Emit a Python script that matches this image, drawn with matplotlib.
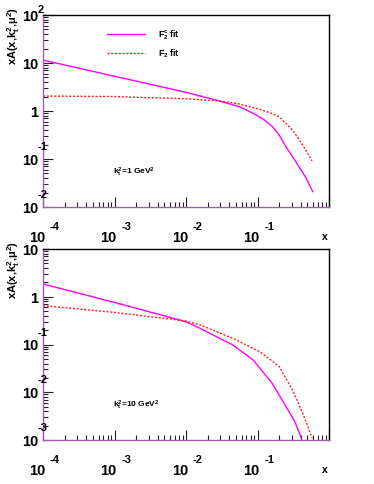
import matplotlib
matplotlib.use("Agg")
import matplotlib.pyplot as plt
import matplotlib.transforms as mtransforms
from matplotlib.ticker import LogLocator, NullFormatter

plt.rcParams['font.family'] = ['Liberation Sans', 'DejaVu Sans']
plt.rcParams['font.weight'] = 'bold'
plt.rcParams['mathtext.fontset'] = 'custom'
plt.rcParams['mathtext.rm'] = 'Liberation Sans:bold'
plt.rcParams['mathtext.it'] = 'Liberation Sans:bold'
plt.rcParams['mathtext.bf'] = 'Liberation Sans:bold'
plt.rcParams['mathtext.default'] = 'rm'

# kt^2 = 1 GeV^2 panel
x1_f2c = [1e-4, 1e-3, 1e-2, 0.03, 0.056, 0.086, 0.12, 0.16, 0.2, 0.25, 0.3, 0.38, 0.48, 0.59]
y1_f2c = [11.5, 5.3, 2.45, 1.6, 1.23, 0.9, 0.68, 0.48, 0.32, 0.18, 0.12, 0.069, 0.040, 0.021]
x1_f2 = [1e-4, 1e-3, 1e-2, 0.03, 0.056, 0.107, 0.15, 0.2, 0.31, 0.43, 0.58]
y1_f2 = [2.05, 2.0, 1.8, 1.62, 1.4, 1.08, 0.92, 0.76, 0.40, 0.195, 0.091]

# kt^2 = 10 GeV^2 panel
x2_f2c = [1e-4, 1e-3, 1e-2, 0.0155, 0.045, 0.086, 0.16, 0.25, 0.33, 0.41]
y2_f2c = [1.85, 0.76, 0.30, 0.22, 0.098, 0.048, 0.0155, 0.005, 0.0025, 0.0011]
x2_f2 = [1e-4, 1e-3, 1e-2, 0.0155, 0.045, 0.107, 0.2, 0.31, 0.43, 0.58]
y2_f2 = [0.65, 0.47, 0.31, 0.26, 0.135, 0.071, 0.035, 0.011, 0.0036, 0.0011]

x_exps = [-4, -3, -2, -1]
y1_exps = [-2, -1, 0, 1, 2]
y2_exps = [-3, -2, -1, 0, 1]
labels = ['F$_2^c$ fit', 'F$_2$ fit']
notes = ['k$_t^2$=1 GeV$^2$', 'k$_t^2$=10 GeV$^2$']

W, H = 374, 484
fig = plt.figure(figsize=(W / 100, H / 100), dpi=100)
ax1 = fig.add_axes([43 / W, 1 - 207 / H, 286 / W, 192 / H])
ax2 = fig.add_axes([43 / W, 1 - 440 / H, 286 / W, 191 / H])

panels = [
    (ax1, x1_f2c, y1_f2c, x1_f2, y1_f2, y1_exps, notes[0]),
    (ax2, x2_f2c, y2_f2c, x2_f2, y2_f2, y2_exps, notes[1]),
]

purple = '#a060a8'
for ax, xc, yc, xf, yf, yexps, note in panels:
    ax.plot(xc, yc, color='#ff00ff', lw=1.0, label=labels[0])
    ax.plot(xf, yf, color='#ff2020', lw=1.0, ls=(0, (1.5, 1.2)), label=labels[1])
    ax.set_xscale('log')
    ax.set_yscale('log')
    ax.set_xlim(1e-4, 1)
    ax.set_ylim(10.0 ** yexps[0], 10.0 ** yexps[-1])

    ax.xaxis.set_major_locator(LogLocator(base=10, numticks=10))
    ax.xaxis.set_minor_locator(LogLocator(base=10, subs=range(2, 10), numticks=20))
    ax.yaxis.set_major_locator(LogLocator(base=10, numticks=10))
    ax.yaxis.set_minor_locator(LogLocator(base=10, subs=range(2, 10), numticks=20))
    for axis in (ax.xaxis, ax.yaxis):
        axis.set_major_formatter(NullFormatter())
        axis.set_minor_formatter(NullFormatter())
    ax.tick_params(which='both', direction='in', top=False, right=False,
                   color='#222222', width=0.8)
    ax.tick_params(which='major', length=7)
    ax.tick_params(which='minor', length=3.5)

    ax.spines['left'].set_color(purple)
    ax.spines['bottom'].set_color(purple)
    ax.spines['top'].set_color('black')
    ax.spines['right'].set_color('black')
    for sp in ax.spines.values():
        sp.set_linewidth(1.0)

    # ROOT-style tick labels: "10" with a raised exponent
    bx = ax.get_xaxis_transform()
    for e in x_exps:
        t = mtransforms.offset_copy(bx, fig=fig, x=2, y=-35, units='dots')
        ax.text(10.0 ** e, 0, '10', transform=t, ha='right', va='baseline',
                fontsize=10.5, fontweight='bold', clip_on=False)
        t = mtransforms.offset_copy(bx, fig=fig, x=7, y=-23, units='dots')
        ax.text(10.0 ** e, 0, str(e), transform=t, ha='left', va='baseline',
                fontsize=8, fontweight='bold', clip_on=False)
    by = ax.get_yaxis_transform()
    for e in yexps:
        main = '1' if e == 0 else '10'
        t = mtransforms.offset_copy(by, fig=fig, x=-5, y=-2, units='dots')
        ax.text(0, 10.0 ** e, main, transform=t, ha='right', va='center',
                fontsize=10.5, fontweight='bold', clip_on=False)
        if e not in (0, 1):
            raise_px = 5 if e == yexps[-1] else 12
            t = mtransforms.offset_copy(by, fig=fig, x=-5, y=raise_px, units='dots')
            ax.text(0, 10.0 ** e, str(e), transform=t, ha='left', va='center',
                    fontsize=8, fontweight='bold', clip_on=False)

    ax.text(0.245, 0.18, note, transform=ax.transAxes, fontsize=6,
            fontweight='bold', ha='left', va='center')

    pos = ax.get_position()
    fig.text(14 / W, pos.y1 + 8 / H, 'xA(x,k$_t^2$,μ$^2$)', rotation=90,
             ha='center', va='top', fontsize=8, fontweight='bold')
    fig.text(325 / W, pos.y0 - 30 / H, 'x', ha='center', va='center',
             fontsize=7.5, fontweight='bold')

ax1.legend(loc='upper left', bbox_to_anchor=(0.224, 0.93), frameon=False,
           fontsize=6.3, handlelength=4.3, handletextpad=1.5, labelspacing=0.6,
           borderpad=0, borderaxespad=0)

fig.savefig('out.png', dpi=100)
